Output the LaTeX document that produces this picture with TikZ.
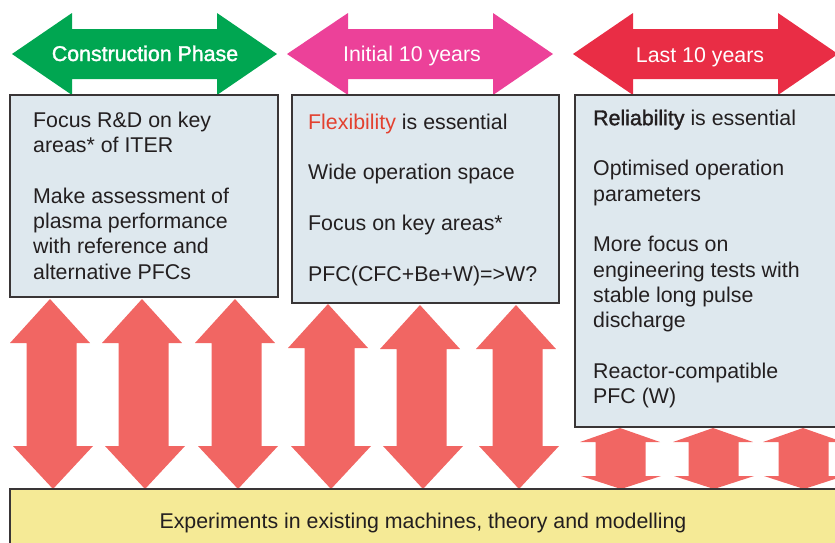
\documentclass[tikz,border=0pt]{standalone}
\usepackage{fontspec}
\setmainfont{Liberation Sans}
\newfontfamily\fakebf[FakeBold=1.6]{Liberation Sans}
\usetikzlibrary{positioning}
\definecolor{PhaseGreen}{HTML}{00A651}
\definecolor{PhasePink}{HTML}{EC4199}
\definecolor{PhaseRed}{HTML}{E92D45}
\definecolor{LinkRed}{HTML}{F16663}
\definecolor{BoxBlue}{HTML}{DEE8EE}
\definecolor{BaseYellow}{HTML}{F5EA96}
\definecolor{TextGrey}{HTML}{231F20}
\definecolor{FlexRed}{HTML}{E3412F}
% phase arrow: colour, left tip, left base, right base, right tip
\newcommand\phasearrow[5]{%
  \fill[#1] (#2,54) -- (#3,13) -- (#3,29) -- (#4,29) -- (#4,13) -- (#5,54)
    -- (#4,95) -- (#4,79) -- (#3,79) -- (#3,95) -- cycle;}
% link arrow: centre, skew, top tip, top base, bottom base, bottom tip
\newcommand\linkarrow[6]{%
  \fill[LinkRed] (#1,#3) -- (#1+40,#4) -- (#1+#2/2+25,#4) -- (#1+#2/2+25,#5)
    -- (#1+#2+40,#5) -- (#1+#2,#6) -- (#1+#2-40,#5) -- (#1+#2/2-25,#5)
    -- (#1+#2/2-25,#4) -- (#1-40,#4) -- cycle;}

\begin{document}
\begin{tikzpicture}[x=1pt,y=-1pt,
  phasebox/.style={draw=TextGrey!90,line width=1.2pt,fill=BoxBlue},
  boxtext/.style={anchor=north west,inner sep=0pt,align=left,text=TextGrey,
    font=\fontsize{21.35}{25.3}\selectfont},
  phaselabel/.style={anchor=base,inner sep=0pt,text=white,
    font=\fontsize{21.35}{25}\selectfont}]
  \useasboundingbox (0,0) rectangle (835,542);

  \phasearrow{PhaseGreen}{12}{72}{217}{277}
  \phasearrow{PhasePink}{287}{348}{493}{553}
  \phasearrow{PhaseRed}{573}{633}{778}{838}
  \node[phaselabel] (construction) at (145,61) {\fakebf Construction Phase};
  \node[phaselabel] (initial) at (412,61) {Initial 10 years};
  \node[phaselabel] (last) at (700,62) {Last 10 years};

  \draw[phasebox] (10,95) rectangle (278,297);
  \draw[phasebox] (292,95) rectangle (559,303);
  \draw[phasebox] (575,95) rectangle (845,427);

  \node[boxtext] (constructiontext) at (33,111) {\rule{0pt}{16pt}Focus R\&D on key\\
    areas* of ITER\\[25.3pt]
    Make assessment of\\plasma performance\\with reference and\\alternative PFCs};
  \node[boxtext] (initialtext) at (308,113) {\rule{0pt}{16pt}\textcolor{FlexRed}{Flexibility} is essential\\[25.3pt]
    Wide operation space\\[25.3pt]
    Focus on key areas*\\[25.3pt]
    PFC(CFC+Be+W)=>W?};
  \node[boxtext] (lasttext) at (593,109) {\rule{0pt}{16pt}{\fakebf Reliability} is essential\\[25.3pt]
    Optimised operation\\parameters\\[25.3pt]
    More focus on\\engineering tests with\\stable long pulse\\discharge\\[25.3pt]
    Reactor-compatible\\PFC (W)};

  \foreach \cx/\tip in {50/299,142/299,235/299,328/304,420/305,516/305}
    \linkarrow{\cx}{3}{\tip}{\tip+44}{446}{489};
  \foreach \cx in {620,713,803}
    \linkarrow{\cx}{1}{428}{442}{476}{489};

  \draw[phasebox,fill=BaseYellow] (10,489) rectangle (845,560);
  \node[anchor=base,inner sep=0pt,text=TextGrey,font=\fontsize{21.35}{25}\selectfont]
    (experiments) at (423,528) {Experiments in existing machines, theory and modelling};
\end{tikzpicture}
\end{document}
